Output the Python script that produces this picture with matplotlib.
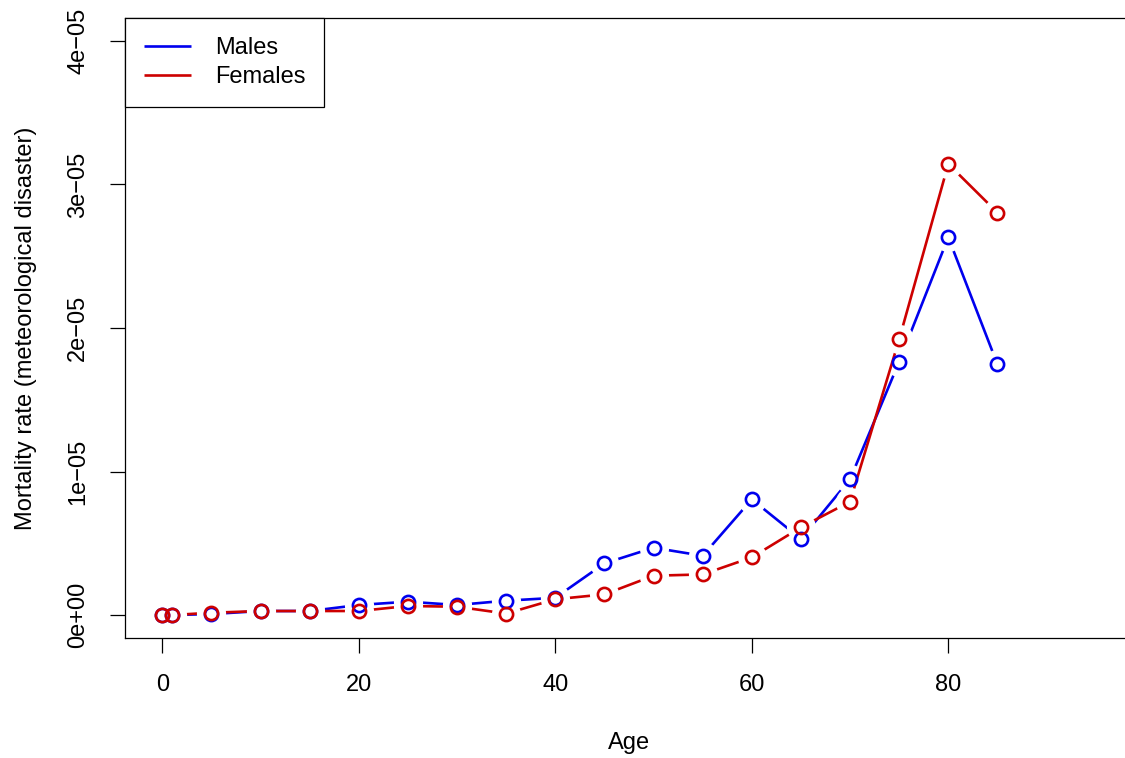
import matplotlib
matplotlib.use("Agg")
import matplotlib.pyplot as plt

# ---------------------------------------------------------------------------
# Data (rates in units of 1e-05)
# ---------------------------------------------------------------------------
ages = [0, 1, 5, 10, 15, 20, 25, 30, 35, 40, 45, 50, 55, 60, 65, 70, 75, 80, 85]
males = [0.0, 0.0, 0.007, 0.028, 0.028, 0.070, 0.093, 0.070, 0.100, 0.120,
         0.360, 0.469, 0.413, 0.806, 0.530, 0.946, 1.765, 2.632, 1.747]
females = [0.0, 0.0, 0.016, 0.028, 0.028, 0.028, 0.063, 0.058, 0.010, 0.110,
           0.144, 0.274, 0.283, 0.402, 0.611, 0.790, 1.921, 3.143, 2.804]

x_ticks = [0, 20, 40, 60, 80]
y_ticks = [0, 1e-05, 2e-05, 3e-05, 4e-05]
y_tick_labels = ["0e+00", "1e\u221205", "2e\u221205", "3e\u221205", "4e\u221205"]

BLUE = "#0000EE"
RED = "#CD0000"
FS = 17

plt.rcParams["font.family"] = ["Liberation Sans", "DejaVu Sans"]

fig = plt.figure(figsize=(11.25, 7.58), dpi=100)
ax = fig.add_axes([125 / 1125, 120 / 758, 1008 / 1125, 620 / 758])

series = [(males, BLUE, "Males"), (females, RED, "Females")]
z = 1
for vals, col, lab in series:
    y = [v * 1e-05 for v in vals]
    # R type="b": line segments with gaps around the points
    ax.plot(ages, y, color=col, lw=1.9, zorder=z, label=lab, solid_capstyle="butt")
    ax.plot(ages, y, ls="none", marker="o", ms=21, mfc="white", mec="white",
            mew=0, zorder=z + 1)
    z += 2
for vals, col, lab in series:
    y = [v * 1e-05 for v in vals]
    ax.plot(ages, y, ls="none", marker="o", ms=9.5, mfc="none", mec=col,
            mew=1.9, zorder=z)
    z += 1

ax.set_xlim(-3.8, 98.8)
ax.set_ylim(-0.16e-05, 4.16e-05)
ax.set_xticks(x_ticks)
ax.set_xticklabels([str(t) for t in x_ticks])
ax.set_yticks(y_ticks)
ax.set_yticklabels(y_tick_labels, rotation=90, va="center")
ax.tick_params(axis="both", length=10.8, width=0.9, labelsize=FS, pad=15)
for sp in ax.spines.values():
    sp.set_linewidth(0.9)

ax.set_xlabel("Age", fontsize=FS, labelpad=26)
ax.set_ylabel("Mortality rate (meteorological disaster)", fontsize=FS, labelpad=22)

leg = ax.legend(loc="upper left", fontsize=FS, frameon=True, fancybox=False,
                edgecolor="black", framealpha=1, borderaxespad=0,
                handlelength=2.0, handletextpad=1.0, labelspacing=0.32,
                borderpad=0.8)
leg.get_frame().set_linewidth(0.9)
for h in leg.get_lines():
    h.set_linewidth(1.9)

fig.savefig("out.png", dpi=100)
